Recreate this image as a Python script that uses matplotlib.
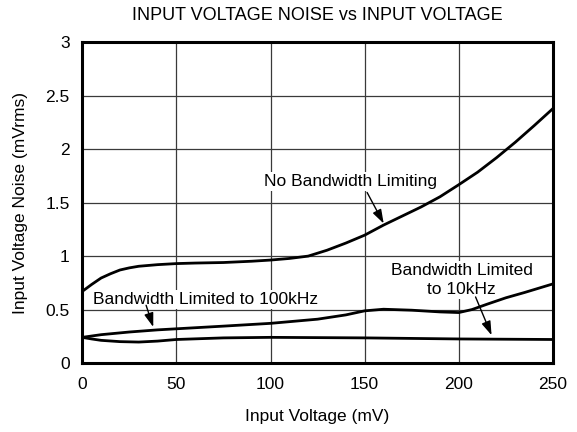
import matplotlib
matplotlib.use("Agg")
import matplotlib.pyplot as plt

plt.rcParams['font.family'] = ['Liberation Sans', 'DejaVu Sans']

# values
x_nobw = [0, 5, 10, 15, 20, 25, 30, 40, 50, 60, 75, 90, 100, 110, 120, 130,
          140, 150, 160, 170, 180, 190, 200, 210, 220, 230, 240, 250]
y_nobw = [0.67, 0.735, 0.795, 0.835, 0.87, 0.89, 0.905, 0.92, 0.93, 0.935,
          0.94, 0.952, 0.963, 0.978, 1.0, 1.055, 1.122, 1.196, 1.29, 1.375,
          1.46, 1.555, 1.668, 1.785, 1.92, 2.065, 2.22, 2.38]

x_100k = [0, 10, 25, 40, 50, 75, 100, 125, 140, 150, 160, 175, 190, 200,
          207, 215, 225, 235, 250]
y_100k = [0.24, 0.265, 0.29, 0.31, 0.32, 0.345, 0.371, 0.41, 0.45, 0.488,
          0.503, 0.494, 0.478, 0.472, 0.50, 0.55, 0.61, 0.66, 0.74]

x_10k = [0, 5, 10, 20, 30, 40, 50, 75, 100, 150, 200, 250]
y_10k = [0.24, 0.225, 0.212, 0.2, 0.196, 0.205, 0.22, 0.235, 0.24, 0.235,
         0.225, 0.22]

x_ticks = [0, 50, 100, 150, 200, 250]
y_ticks = [0, 0.5, 1, 1.5, 2, 2.5, 3]
y_tick_labels = ['0', '0.5', '1', '1.5', '2', '2.5', '3']

fs = 12.5

fig = plt.figure(figsize=(5.77, 4.32), dpi=100)
ax = fig.add_axes([0.1426, 0.1597, 0.8157, 0.7424])

ax.plot(x_nobw, y_nobw, color='black', lw=2, solid_capstyle='butt', zorder=4)
ax.plot(x_100k, y_100k, color='black', lw=2, solid_capstyle='butt', zorder=4)
ax.plot(x_10k, y_10k, color='black', lw=2, solid_capstyle='butt', zorder=4)

ax.set_xlim(0, 250)
ax.set_ylim(0, 3)
ax.set_xticks(x_ticks)
ax.set_yticks(y_ticks)
ax.set_yticklabels(y_tick_labels)
ax.tick_params(length=0, labelsize=fs)
ax.tick_params(axis='x', pad=10)
ax.tick_params(axis='y', pad=9)
ax.grid(True, color='#3a3a3a', lw=0.9)
ax.set_axisbelow(True)
for s in ax.spines.values():
    s.set_linewidth(2.2)
    s.set_zorder(5)

box = dict(facecolor='white', edgecolor='none', pad=1.5)
arrow = dict(arrowstyle='-|>,head_length=0.6,head_width=0.2', color='black',
             lw=1, mutation_scale=14, shrinkA=0, shrinkB=0)

ax.text(142.5, 1.70, 'No Bandwidth Limiting', fontsize=fs, ha='center',
        va='center', bbox=box, zorder=3)
ax.annotate('', xy=(160.1, 1.305), xytext=(151.3, 1.595), arrowprops=arrow,
            zorder=6)

ax.text(5.9, 0.597, 'Bandwidth Limited to 100kHz', fontsize=fs, ha='left',
        va='center', bbox=box, zorder=3)
ax.annotate('', xy=(37.7, 0.337), xytext=(33.9, 0.54), arrowprops=arrow,
            zorder=6)

ax.text(201.6, 0.775, 'Bandwidth Limited\nto 10kHz', fontsize=fs,
        ha='center', va='center', linespacing=1.3, bbox=box, zorder=3)
ax.annotate('', xy=(217.4, 0.26), xytext=(208.9, 0.618), arrowprops=arrow,
            zorder=6)

fig.text(0.5503, 0.963, 'INPUT VOLTAGE NOISE vs INPUT VOLTAGE', fontsize=13,
         ha='center', va='center')
fig.text(0.5503, 0.035, 'Input Voltage (mV)', fontsize=fs, ha='center',
         va='center')
fig.text(0.036, 0.531, 'Input Voltage Noise (mVrms)', fontsize=fs,
         ha='center', va='center', rotation=90)

fig.savefig('out.png', dpi=100)
